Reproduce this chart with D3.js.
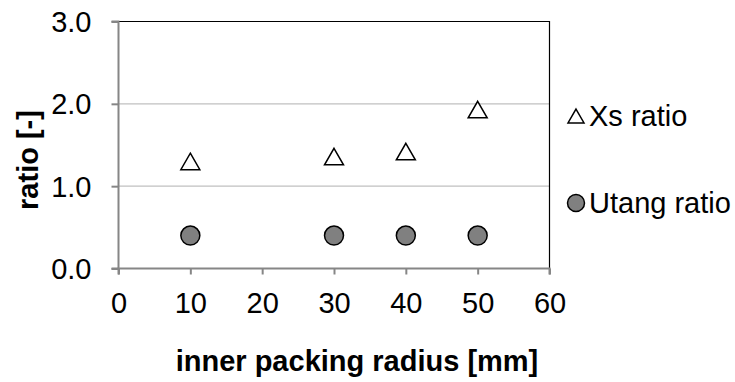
<!DOCTYPE html>
<html>
<head>
<meta charset="utf-8">
<script src="https://cdn.jsdelivr.net/npm/d3@7"></script>
<style>
  html, body { margin: 0; padding: 0; background: #fff; }
  svg { display: block; font-family: "Liberation Sans", Arial, sans-serif; }
</style>
</head>
<body>
<svg id="chart" width="735" height="382"></svg>
<script>
// Inner packing radius [mm]
const radius = [10, 30, 40, 50];
// Measured ratios per radius
const xsRatio = [1.30, 1.36, 1.42, 1.93];
const utangRatio = [0.40, 0.40, 0.40, 0.40];
// Axis ticks
const xTicks = [0, 10, 20, 30, 40, 50, 60];
const yTicks = [0.0, 1.0, 2.0, 3.0];
const seriesNames = ["Xs ratio", "Utang ratio"];

const svg = d3.select("#chart");
const plot = { left: 118.5, top: 21.5, right: 549.5, bottom: 268.5 };
const FONT = 29;

const x = d3.scaleLinear().domain([0, 60]).range([plot.left, plot.right]);
const y = d3.scaleLinear().domain([0, 3]).range([plot.bottom, plot.top]);

// Horizontal gridlines
svg.append("g")
  .selectAll("line")
  .data(yTicks.filter(v => v > 0 && v < 3))
  .join("line")
  .attr("x1", plot.left).attr("x2", plot.right)
  .attr("y1", d => y(d)).attr("y2", d => y(d))
  .attr("stroke", "#c0c0c0").attr("stroke-width", 1.2);

// Top and right frame
svg.append("path")
  .attr("d", `M${plot.left},${plot.top}H${plot.right}V${plot.bottom}`)
  .attr("fill", "none").attr("stroke", "#000").attr("stroke-width", 1.2);

// X axis
const xAxis = svg.append("g")
  .attr("transform", `translate(0,${plot.bottom})`)
  .call(d3.axisBottom(x).tickValues(xTicks).tickSize(6).tickPadding(0).tickFormat(d3.format("d")));
// Y axis
const yAxis = svg.append("g")
  .attr("transform", `translate(${plot.left},0)`)
  .call(d3.axisLeft(y).tickValues(yTicks).tickSize(7).tickPadding(20).tickFormat(d3.format(".1f")));

[xAxis, yAxis].forEach(g => {
  g.select(".domain").attr("stroke", "#868686").attr("stroke-width", 2);
  g.selectAll(".tick line").attr("stroke", "#868686").attr("stroke-width", 2);
  g.selectAll(".tick text").attr("fill", "#000").style("font-size", FONT + "px")
    .style("font-family", "'Liberation Sans', Arial, sans-serif");
});
xAxis.selectAll(".tick text").attr("dy", null).attr("y", 44.5);
yAxis.selectAll(".tick text").attr("dy", "0.35em");
xAxis.select(".domain").attr("d", `M${plot.left},6V0H${plot.right}V6`);
yAxis.select(".domain").attr("d", `M-7,${plot.bottom}H0V${plot.top}H-7`);

// Axis titles
svg.append("text")
  .attr("x", 357).attr("y", 371)
  .attr("text-anchor", "middle")
  .style("font-size", FONT + "px").style("font-weight", "bold")
  .text("inner packing radius [mm]");
svg.append("text")
  .attr("transform", `translate(38,160) rotate(-90)`)
  .attr("text-anchor", "middle")
  .style("font-size", FONT + "px").style("font-weight", "bold")
  .text("ratio [-]");

// Upward triangle of width w centred on origin
const triPath = (w) => {
  const h = w * 0.87;
  return `M0,${-h / 2}L${w / 2},${h / 2}L${-w / 2},${h / 2}Z`;
};

// Xs ratio markers
svg.append("g").selectAll("path")
  .data(radius.map((r, i) => [r, xsRatio[i]]))
  .join("path")
  .attr("transform", d => `translate(${x(d[0])},${y(d[1])})`)
  .attr("d", triPath(19))
  .attr("fill", "#fff").attr("stroke", "#000").attr("stroke-width", 1.5);

// Utang ratio markers
svg.append("g").selectAll("circle")
  .data(radius.map((r, i) => [r, utangRatio[i]]))
  .join("circle")
  .attr("cx", d => x(d[0])).attr("cy", d => y(d[1]))
  .attr("r", 9.5)
  .attr("fill", "#808080").attr("stroke", "#000").attr("stroke-width", 1.5);

// Legend
const legend = svg.append("g");
legend.append("path")
  .attr("transform", "translate(576,116)")
  .attr("d", triPath(16))
  .attr("fill", "#fff").attr("stroke", "#000").attr("stroke-width", 1.5);
legend.append("circle")
  .attr("cx", 576).attr("cy", 203).attr("r", 8.5)
  .attr("fill", "#808080").attr("stroke", "#000").attr("stroke-width", 1.5);
legend.selectAll("text")
  .data(seriesNames)
  .join("text")
  .attr("x", 589).attr("y", (d, i) => i === 0 ? 126 : 212.5)
  .style("font-size", FONT + "px")
  .text(d => d);
</script>
</body>
</html>
